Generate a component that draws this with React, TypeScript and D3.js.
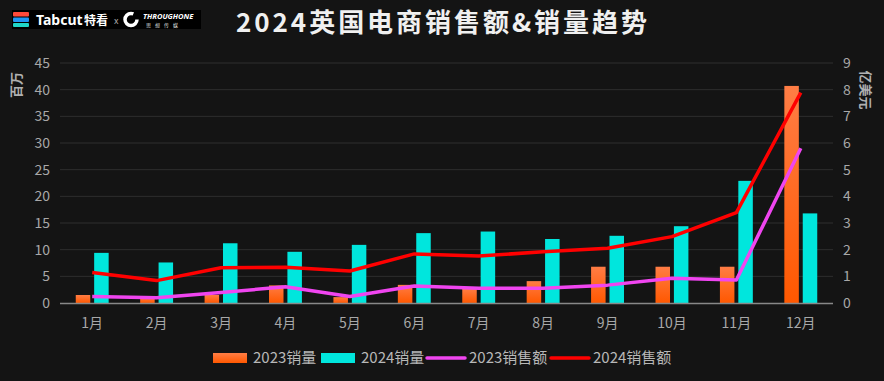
import React from "react";
import * as d3 from "d3";

const months = ["1月", "2月", "3月", "4月", "5月", "6月", "7月", "8月", "9月", "10月", "11月", "12月"];
const vol2023 = [1.5, 1.2, 1.5, 3.3, 1.1, 3.4, 2.7, 4.1, 6.8, 6.8, 6.8, 40.7];
const vol2024 = [9.4, 7.6, 11.2, 9.6, 10.9, 13.1, 13.4, 12.0, 12.6, 14.4, 22.9, 16.8];
const sales2023 = [0.24, 0.2, 0.39, 0.61, 0.24, 0.64, 0.55, 0.55, 0.67, 0.93, 0.86, 5.8];
const sales2024 = [1.14, 0.84, 1.32, 1.34, 1.2, 1.84, 1.76, 1.92, 2.05, 2.49, 3.39, 7.89];
const leftTicks = [0, 5, 10, 15, 20, 25, 30, 35, 40, 45];
const rightTicks = [0, 1, 2, 3, 4, 5, 6, 7, 8, 9];
const legendItems = ["2023销量", "2024销量", "2023销售额", "2024销售额"];

const W = 884;
const H = 381;
const M = { left: 60, right: 833, top: 63, bottom: 303 };
const FONT = "'Noto Sans CJK SC', 'Noto Sans', sans-serif";
const C_CYAN = "#00e6dd";
const C_MAGENTA = "#f045f0";
const C_RED = "#ff0000";

export default function App() {
  const x = d3.scaleBand<string>().domain(months).range([M.left, M.right]).padding(0);
  const yL = d3.scaleLinear().domain([0, 45]).range([M.bottom, M.top]);
  const yR = d3.scaleLinear().domain([0, 9]).range([M.bottom, M.top]);
  const barW = 14.5;
  const off = 9.2;
  const cx = (m: string) => (x(m) as number) + x.bandwidth() / 2;
  const line = (vals: number[]) =>
    d3.line<number>().x((_, i) => cx(months[i])).y((v) => yR(v))(vals) as string;

  const legendX = [213, 321, 427, 551];

  return (
    <svg width={W} height={H} style={{ position: "absolute", left: 0, top: 0, background: "#141414" }} fontFamily={FONT}>
      <defs>
        <linearGradient id="og" x1="0" y1="0" x2="0" y2="1">
          <stop offset="0" stopColor="#ff7d45" />
          <stop offset="1" stopColor="#ff5800" />
        </linearGradient>
      </defs>
      <rect x={0} y={0} width={W} height={H} fill="#141414" />

      {/* logo */}
      <rect x={12} y={10} width={189} height={19} fill="#000" />
      <rect x={13} y={12} width={16} height={4.5} rx={1} fill="#ff4a3a" />
      <rect x={13} y={17.5} width={16} height={4.5} rx={1} fill="#2196f3" />
      <rect x={13} y={23} width={16} height={4} rx={1} fill="#1fd6c8" />
      <text x={36} y={25} fill="#fff" fontSize={14} fontWeight="bold" fontFamily="'Noto Sans', sans-serif">Tabcut</text>
      <text x={84} y={25} fill="#fff" fontSize={12} fontWeight="bold">特看</text>
      <text x={114} y={24} fill="#aaa" fontSize={9}>x</text>
      <circle cx={131} cy={19.5} r={6} fill="none" stroke="#fff" strokeWidth={3.5} strokeDasharray="30 8" />
      <text x={143} y={19} fill="#fff" fontSize={7.5} fontWeight="bold" fontStyle="italic" fontFamily="'Noto Sans', sans-serif">THROUGHONE</text>
      <text x={146} y={27} fill="#ddd" fontSize={5} letterSpacing={4}>思想传媒</text>

      {/* title */}
      <text x={236} y={32} fill="#f0f0f0" fontSize={26} fontWeight="bold" textLength={411} lengthAdjust="spacing">
        2024英国电商销售额&amp;销量趋势
      </text>

      {/* grid */}
      {leftTicks.slice(1).map((t) => (
        <line key={t} x1={M.left} x2={M.right} y1={yL(t)} y2={yL(t)} stroke="#2e2e2e" strokeWidth={1} />
      ))}

      {/* left ticks */}
      {leftTicks.map((t) => (
        <text key={t} x={50} y={yL(t) + 5} fill="#a8a8a8" fontSize={14} textAnchor="end">{t}</text>
      ))}
      {/* right ticks */}
      {rightTicks.map((t) => (
        <text key={t} x={843} y={yR(t) + 5} fill="#a8a8a8" fontSize={14}>{t}</text>
      ))}
      <text transform="translate(21,85) rotate(-90)" fill="#b0b0b0" fontSize={13} fontWeight="bold" textAnchor="middle">百万</text>
      <text transform="translate(861,90) rotate(90)" fill="#b0b0b0" fontSize={13} fontWeight="bold" textAnchor="middle">亿美元</text>

      {/* bars */}
      {months.map((m, i) => (
        <g key={m}>
          <rect x={cx(m) - off - barW / 2} y={yL(vol2023[i])} width={barW} height={yL(0) - yL(vol2023[i])} fill="url(#og)" />
          <rect x={cx(m) + off - barW / 2} y={yL(vol2024[i])} width={barW} height={yL(0) - yL(vol2024[i])} fill={C_CYAN} />
        </g>
      ))}

      {/* x axis */}
      <line x1={M.left} x2={M.right} y1={M.bottom + 0.5} y2={M.bottom + 0.5} stroke="#888" strokeWidth={1.5} />
      {months.map((m) => (
        <text key={m} x={cx(m)} y={328} fill="#a8a8a8" fontSize={14} textAnchor="middle">{m}</text>
      ))}

      {/* lines */}
      <path d={line(sales2023)} fill="none" stroke={C_MAGENTA} strokeWidth={3.5} strokeLinejoin="round" />
      <path d={line(sales2024)} fill="none" stroke={C_RED} strokeWidth={3.5} strokeLinejoin="round" />

      {/* legend */}
      <rect x={legendX[0]} y={353} width={34} height={10} fill="url(#og)" />
      <text x={legendX[0] + 40} y={363} fill="#b8b8b8" fontSize={15}>{legendItems[0]}</text>
      <rect x={legendX[1]} y={353} width={34} height={10} fill={C_CYAN} />
      <text x={legendX[1] + 40} y={363} fill="#b8b8b8" fontSize={15}>{legendItems[1]}</text>
      <line x1={legendX[2]} x2={legendX[2] + 38} y1={358} y2={358} stroke={C_MAGENTA} strokeWidth={3.5} strokeLinecap="round" />
      <text x={legendX[2] + 42} y={363} fill="#b8b8b8" fontSize={15}>{legendItems[2]}</text>
      <line x1={legendX[3]} x2={legendX[3] + 38} y1={358} y2={358} stroke={C_RED} strokeWidth={3.5} strokeLinecap="round" />
      <text x={legendX[3] + 42} y={363} fill="#b8b8b8" fontSize={15}>{legendItems[3]}</text>
    </svg>
  );
}
